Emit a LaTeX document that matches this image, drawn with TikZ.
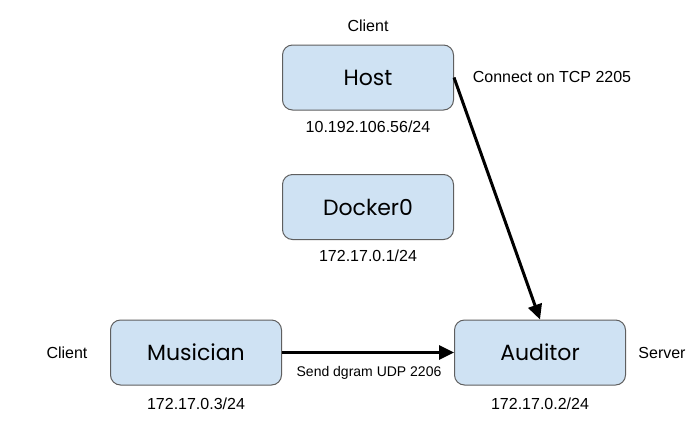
\documentclass[tikz,border=0pt]{standalone}
\usepackage{fontspec}
\setmainfont{Liberation Sans}
\newfontfamily\boxfont{Poppins}
\usetikzlibrary{arrows.meta}
\definecolor{boxfill}{HTML}{CFE2F3}
\definecolor{boxline}{HTML}{5F5F5F}
\tikzset{
  hostbox/.style={draw=boxline, line width=1pt, fill=boxfill, rounded corners=10pt,
    minimum width=171pt, minimum height=65pt, inner sep=0pt, font=\boxfont\fontsize{22}{26}\selectfont},
  lbl/.style={inner sep=0pt, font=\fontsize{16}{19}\selectfont},
  lblsmall/.style={inner sep=0pt, font=\fontsize{14}{17}\selectfont},
  conn/.style={line width=3pt, -{Triangle[length=15pt,width=14pt]}, shorten >=0pt},
}
\begin{document}
\begin{tikzpicture}[x=1pt,y=-1pt]
\useasboundingbox[fill=white] (0,0) rectangle (700,434);
\node[hostbox] (host) at (368,77.5) {Host};
\node[hostbox] (docker) at (368,207) {Docker0};
\node[hostbox] (musician) at (196,352.5) {Musician};
\node[hostbox] (auditor) at (540,352.5) {Auditor};
\node[lbl] (hostrole) at (368,26) {Client};
\node[lbl] (hostip) at (368,127) {10.192.106.56/24};
\node[lbl] (tcp) at (552,77) {Connect on TCP 2205};
\node[lbl] (dockerip) at (368,256) {172.17.0.1/24};
\node[lbl] (musrole) at (67,353) {Client};
\node[lbl] (musip) at (196,404) {172.17.0.3/24};
\node[lbl] (audrole) at (662,353) {Server};
\node[lbl] (audip) at (540,404) {172.17.0.2/24};
\node[lblsmall] (udp) at (369,373) {Send dgram UDP 2206};
\draw[conn] (host.east) -- (auditor.north);
\draw[conn] (musician.east) -- (auditor.west);
\end{tikzpicture}
\end{document}
